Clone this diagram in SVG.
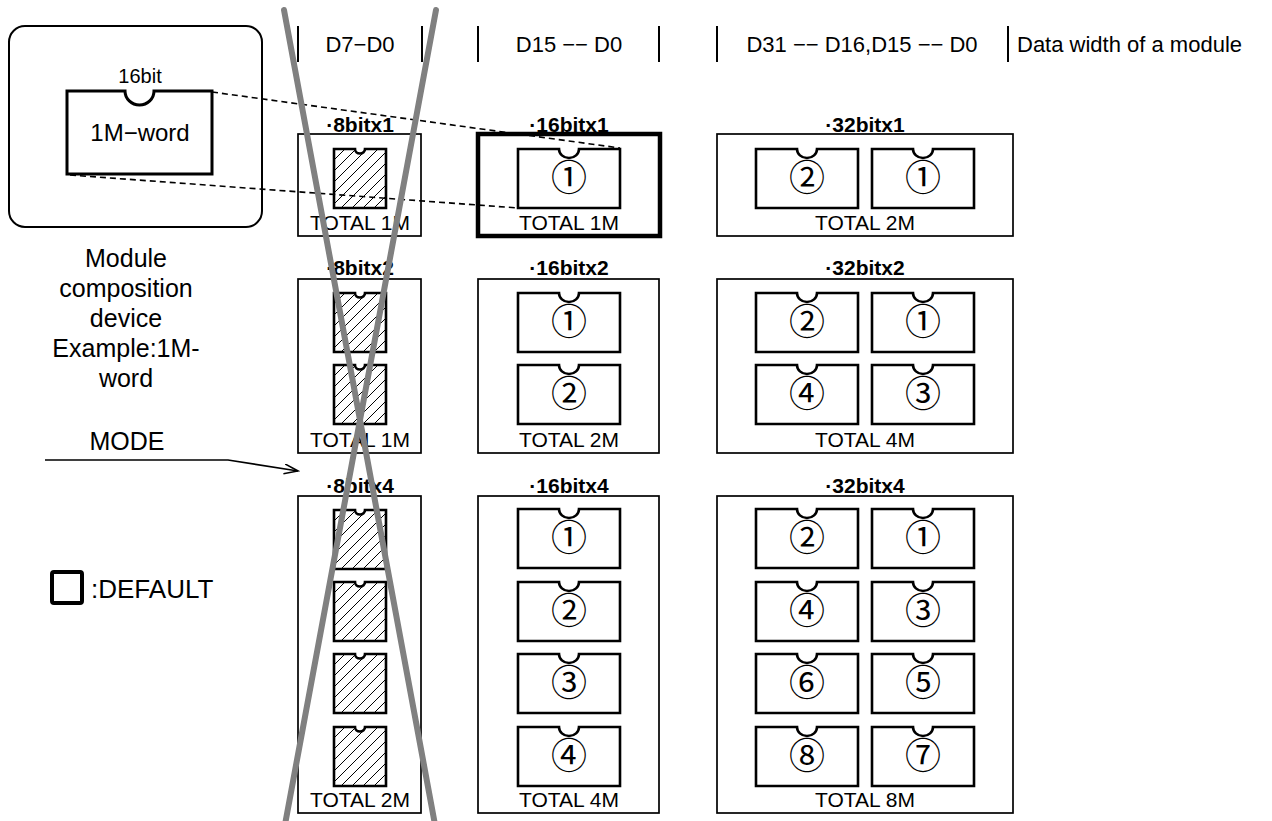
<svg xmlns="http://www.w3.org/2000/svg" width="1272" height="821" viewBox="0 0 1272 821">
<style>
.box{fill:#fff;stroke:#000;stroke-width:1.7}
.boldbox{fill:#fff;stroke:#000;stroke-width:4.5}
.chip{fill:#fff;stroke:#000;stroke-width:2.6}
.hchip{fill:url(#hatch);stroke:#000;stroke-width:2.6}
.t{font-family:"Liberation Sans",Arial,sans-serif;fill:#000}
.hdr{font-size:22px}
.mid{text-anchor:middle}
.lbl{font-size:21px;font-weight:bold;text-anchor:middle}
.tot{font-size:21px;text-anchor:middle}
.num{font-family:"Noto Sans CJK JP","Noto Sans CJK SC",sans-serif;font-size:36px;text-anchor:middle;fill:#000}
.side{font-size:25px;text-anchor:middle}
.bar{stroke:#000;stroke-width:2}
.dash{stroke:#000;stroke-width:1.6;stroke-dasharray:6 4;fill:none}
.cross{stroke:#808080;stroke-width:6;stroke-linecap:round}
</style>
<defs>
<pattern id="hatch" patternUnits="userSpaceOnUse" width="11" height="11">
<rect width="11" height="11" fill="#fff"/>
<path d="M0,11 L11,0 M-1,1 L1,-1 M10,12 L12,10" stroke="#000" stroke-width="1"/>
</pattern>
<path id="c16" d="M0,0 H41 A10,9 0 0 0 61,0 H102 V59 H0 Z"/>
<path id="c8" d="M0,0 H21 A5,4.5 0 0 0 31,0 H52 V59 H0 Z"/>
<marker id="openArrow" markerUnits="userSpaceOnUse" markerWidth="16" markerHeight="12" refX="14" refY="5" orient="auto">
<path d="M0,0 L14,5 L0,10" fill="none" stroke="#000" stroke-width="1.6"/>
</marker>
</defs>
<rect width="1272" height="821" fill="#fff"/>

<g id="header">
<line class="bar" x1="298" y1="26" x2="298" y2="62"/>
<line class="bar" x1="422" y1="26" x2="422" y2="62"/>
<line class="bar" x1="478" y1="26" x2="478" y2="62"/>
<line class="bar" x1="659" y1="26" x2="659" y2="62"/>
<line class="bar" x1="717" y1="26" x2="717" y2="62"/>
<line class="bar" x1="1008" y1="26" x2="1008" y2="62"/>
<text class="t hdr mid" x="360" y="52">D7−D0</text>
<text class="t hdr mid" x="569" y="52">D15 −− D0</text>
<text class="t hdr mid" x="862" y="52">D31 −− D16,D15 −− D0</text>
<text class="t hdr" x="1017" y="52">Data width of a module</text>
</g>

<g id="legend-device">
<rect x="9" y="26" width="253" height="201" rx="16" fill="#fff" stroke="#000" stroke-width="2"/>
<text class="t mid" x="140" y="83" font-size="20">16bit</text>
<path d="M67,91 H125 A14.5,14 0 0 0 154,91 H212 V174 H67 Z" fill="#fff" stroke="#000" stroke-width="3"/>
<text class="t mid" x="140" y="141" font-size="24">1M−word</text>
</g>

<g id="legend-text">
<text class="t side" x="126" y="267">Module</text>
<text class="t side" x="126" y="297">composition</text>
<text class="t side" x="126" y="327">device</text>
<text class="t side" x="126" y="357">Example:1M-</text>
<text class="t side" x="126" y="387">word</text>
<text class="t side" x="127" y="450">MODE</text>
</g>

<g id="legend-default">
<rect x="52" y="572" width="30" height="31" rx="2" fill="#fff" stroke="#000" stroke-width="4"/>
<text class="t" x="91" y="598" font-size="26">:DEFAULT</text>
</g>

<!-- row 1 -->
<g id="m8x1">
<text class="t lbl" x="360" y="132">·8bitx1</text>
<rect class="box" x="298" y="134" width="123" height="102"/>
<use href="#c8" class="hchip" x="334" y="149"/>
<text class="t tot" x="360" y="230">TOTAL 1M</text>
</g>
<g id="m16x1">
<text class="t lbl" x="569" y="132">·16bitx1</text>
<rect class="boldbox" x="478" y="134" width="182" height="102"/>
<use href="#c16" class="chip" x="518" y="149"/>
<text class="num" x="569" y="191">①</text>
<text class="t tot" x="569" y="230">TOTAL 1M</text>
</g>
<g id="m32x1">
<text class="t lbl" x="865" y="132">·32bitx1</text>
<rect class="box" x="717" y="134" width="296" height="102"/>
<use href="#c16" class="chip" x="756" y="149"/>
<use href="#c16" class="chip" x="872" y="149"/>
<text class="num" x="807" y="191">②</text>
<text class="num" x="923" y="191">①</text>
<text class="t tot" x="865" y="230">TOTAL 2M</text>
</g>

<!-- row 2 -->
<g id="m8x2">
<text class="t lbl" x="360" y="275">·8bitx2</text>
<rect class="box" x="298" y="279" width="123" height="174"/>
<use href="#c8" class="hchip" x="334" y="293"/>
<use href="#c8" class="hchip" x="334" y="365"/>
<text class="t tot" x="360" y="447">TOTAL 1M</text>
</g>
<g id="m16x2">
<text class="t lbl" x="569" y="275">·16bitx2</text>
<rect class="box" x="478" y="279" width="181" height="174"/>
<use href="#c16" class="chip" x="518" y="293"/>
<use href="#c16" class="chip" x="518" y="365"/>
<text class="num" x="569" y="335">①</text>
<text class="num" x="569" y="407">②</text>
<text class="t tot" x="569" y="447">TOTAL 2M</text>
</g>
<g id="m32x2">
<text class="t lbl" x="865" y="275">·32bitx2</text>
<rect class="box" x="717" y="279" width="296" height="174"/>
<use href="#c16" class="chip" x="756" y="293"/>
<use href="#c16" class="chip" x="872" y="293"/>
<use href="#c16" class="chip" x="756" y="365"/>
<use href="#c16" class="chip" x="872" y="365"/>
<text class="num" x="807" y="335">②</text>
<text class="num" x="923" y="335">①</text>
<text class="num" x="807" y="407">④</text>
<text class="num" x="923" y="407">③</text>
<text class="t tot" x="865" y="447">TOTAL 4M</text>
</g>

<!-- row 3 -->
<g id="m8x4">
<text class="t lbl" x="360" y="493">·8bitx4</text>
<rect class="box" x="298" y="496" width="123" height="317"/>
<use href="#c8" class="hchip" x="334" y="510"/>
<use href="#c8" class="hchip" x="334" y="582"/>
<use href="#c8" class="hchip" x="334" y="654"/>
<use href="#c8" class="hchip" x="334" y="727"/>
<text class="t tot" x="360" y="807">TOTAL 2M</text>
</g>
<g id="m16x4">
<text class="t lbl" x="569" y="493">·16bitx4</text>
<rect class="box" x="478" y="496" width="181" height="317"/>
<use href="#c16" class="chip" x="518" y="509"/>
<use href="#c16" class="chip" x="518" y="582"/>
<use href="#c16" class="chip" x="518" y="654"/>
<use href="#c16" class="chip" x="518" y="727"/>
<text class="num" x="569" y="551">①</text>
<text class="num" x="569" y="624">②</text>
<text class="num" x="569" y="696">③</text>
<text class="num" x="569" y="769">④</text>
<text class="t tot" x="569" y="807">TOTAL 4M</text>
</g>
<g id="m32x4">
<text class="t lbl" x="865" y="493">·32bitx4</text>
<rect class="box" x="717" y="496" width="296" height="317"/>
<use href="#c16" class="chip" x="756" y="509"/>
<use href="#c16" class="chip" x="872" y="509"/>
<use href="#c16" class="chip" x="756" y="582"/>
<use href="#c16" class="chip" x="872" y="582"/>
<use href="#c16" class="chip" x="756" y="654"/>
<use href="#c16" class="chip" x="872" y="654"/>
<use href="#c16" class="chip" x="756" y="727"/>
<use href="#c16" class="chip" x="872" y="727"/>
<text class="num" x="807" y="551">②</text>
<text class="num" x="923" y="551">①</text>
<text class="num" x="807" y="624">④</text>
<text class="num" x="923" y="624">③</text>
<text class="num" x="807" y="696">⑥</text>
<text class="num" x="923" y="696">⑤</text>
<text class="num" x="807" y="769">⑧</text>
<text class="num" x="923" y="769">⑦</text>
<text class="t tot" x="865" y="807">TOTAL 8M</text>
</g>

<g id="connectors">
<line class="dash" x1="212" y1="92" x2="620" y2="148"/>
<line class="dash" x1="70" y1="175" x2="518" y2="208"/>
<polyline points="45,460 228,460 298,471" fill="none" stroke="#000" stroke-width="1.6" marker-end="url(#openArrow)"/>
</g>

<g id="cross-out">
<line class="cross" x1="284" y1="10" x2="436" y2="830"/>
<line class="cross" x1="436" y1="10" x2="284" y2="830"/>
</g>
</svg>
